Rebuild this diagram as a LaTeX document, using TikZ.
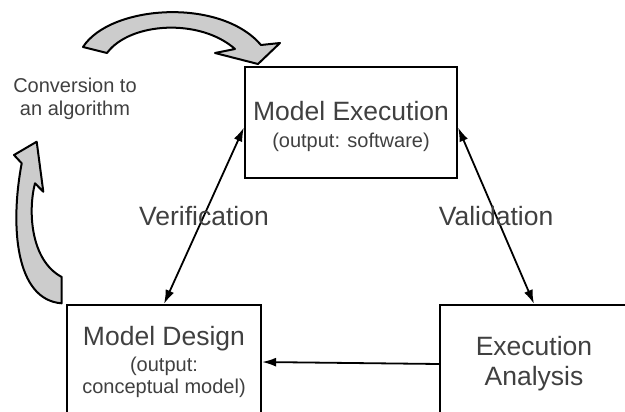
\documentclass[tikz,border=0pt]{standalone}
\usepackage{fontspec}
\setmainfont{Liberation Sans}
\usetikzlibrary{arrows.meta}
\definecolor{txtgray}{HTML}{404040}
\definecolor{shade}{HTML}{CCCCCC}
\newcommand{\bigfont}{\fontsize{26.5}{30}\selectfont}
\newcommand{\smallfont}{\fontsize{20}{22.5}\selectfont}
\begin{document}
\begin{tikzpicture}[x=1pt, y=-1pt,
  box/.style={draw, line width=2.2pt, align=center, text=txtgray, inner sep=0pt},
  link/.style={line width=1.8pt, {Latex[length=14pt,width=9pt]}-{Latex[length=14pt,width=9pt]}},
  lbl/.style={text=txtgray, font=\bigfont},
  curvearrow/.style={fill=shade, draw, line width=2pt, line join=round}]
\useasboundingbox (0,0) rectangle (625,412);
\node[box, font=\smallfont, text height=54pt, minimum width=212pt, minimum height=111pt] (exec) at (351,122.5)
  {{\bigfont Model Execution}\\[4pt](output: software)};
\node[box, font=\smallfont, minimum width=194pt, minimum height=114pt] (design) at (164,362)
  {{\bigfont Model Design}\\[3pt](output:\\conceptual model)};
\node[box, font=\bigfont, minimum width=188pt, minimum height=118pt] (anal) at (534,364)
  {Execution\\Analysis};
\node[text=txtgray, font=\smallfont, align=center] (conv) at (75,99) {Conversion to\\an algorithm};
\draw[link] (design.north) -- node[lbl] {Verification} ([yshift=-5pt]exec.west);
\draw[link] ([yshift=-5pt]exec.east) -- node[lbl] {Validation} (anal.north);
\draw[line width=1.8pt, -{Latex[length=14pt,width=9pt]}] (anal.west) -- (design.east);
\draw[curvearrow] (83,47) .. controls (110,5) and (220,-3) .. (261,45) -- (280,43) -- (258,64)
  -- (215,53) -- (235,49) .. controls (200,18) and (130,22) .. (107,53) -- cycle;
\draw[curvearrow] (36.7,141.7) -- (43.3,191.7) -- (35,183.3) .. controls (28,210) and (30,260) .. (61.7,277)
  -- (61.7,303.3) .. controls (15,300) and (10,225) .. (21.7,163.3) -- (14,155) -- cycle;
\end{tikzpicture}
\end{document}
